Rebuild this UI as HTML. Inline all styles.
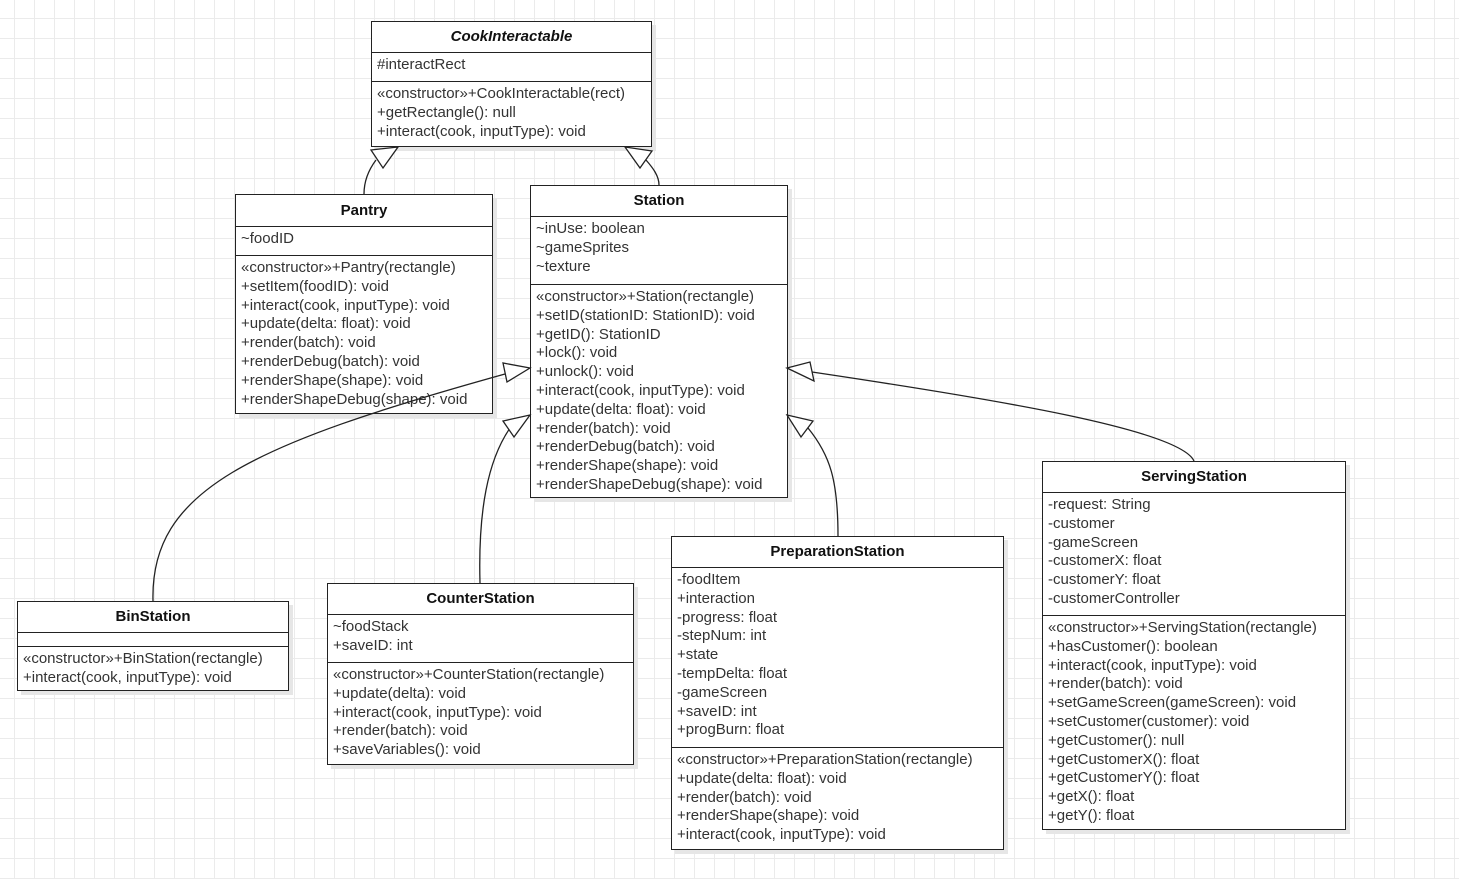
<!DOCTYPE html>
<html><head><meta charset="utf-8"><style>
html,body{margin:0;padding:0;}
body{width:1459px;height:879px;position:relative;overflow:hidden;background-color:#fff;
background-image:linear-gradient(to right,#ebebeb 1px,transparent 1px),linear-gradient(to bottom,#ebebeb 1px,transparent 1px);
background-size:20px 20px;background-position:14px 18px;font-family:"Liberation Sans",sans-serif;}
.box{position:absolute;background:#fff;border:1px solid #222;box-sizing:border-box;box-shadow:4px 4px 0 #e6e6e6;}
.h{font-weight:bold;font-size:15px;text-align:center;color:#111;border-bottom:1px solid #222;box-sizing:border-box;}
.s{font-size:15px;color:#333;line-height:18.8px;padding:3px 0 0 5px;box-sizing:border-box;white-space:nowrap;}
.s+.s{border-top:1px solid #222;}
svg{position:absolute;left:0;top:0;}
</style></head><body>

<div class="box" style="left:371px;top:21px;width:281px;height:126px">
<div class="h" style="height:31px;line-height:30px;font-style:italic">CookInteractable</div>
<div class="s" style="height:28px">#interactRect</div>
<div class="s" style="height:65px">«constructor»+CookInteractable(rect)<br>+getRectangle(): null<br>+interact(cook, inputType): void</div>
</div>

<div class="box" style="left:235px;top:194px;width:258px;height:220px">
<div class="h" style="height:32px;line-height:31px">Pantry</div>
<div class="s" style="height:28px">~foodID</div>
<div class="s" style="height:158px">«constructor»+Pantry(rectangle)<br>+setItem(foodID): void<br>+interact(cook, inputType): void<br>+update(delta: float): void<br>+render(batch): void<br>+renderDebug(batch): void<br>+renderShape(shape): void<br>+renderShapeDebug(shape): void</div>
</div>

<div class="box" style="left:530px;top:185px;width:258px;height:313px">
<div class="h" style="height:31px;line-height:30px">Station</div>
<div class="s" style="height:67px">~inUse: boolean<br>~gameSprites<br>~texture</div>
<div class="s" style="height:213px">«constructor»+Station(rectangle)<br>+setID(stationID: StationID): void<br>+getID(): StationID<br>+lock(): void<br>+unlock(): void<br>+interact(cook, inputType): void<br>+update(delta: float): void<br>+render(batch): void<br>+renderDebug(batch): void<br>+renderShape(shape): void<br>+renderShapeDebug(shape): void</div>
</div>

<div class="box" style="left:17px;top:601px;width:272px;height:90px">
<div class="h" style="height:31px;line-height:30px">BinStation</div>
<div class="s" style="height:13px"></div>
<div class="s" style="height:44px">«constructor»+BinStation(rectangle)<br>+interact(cook, inputType): void</div>
</div>

<div class="box" style="left:327px;top:583px;width:307px;height:182px">
<div class="h" style="height:31px;line-height:30px">CounterStation</div>
<div class="s" style="height:47px">~foodStack<br>+saveID: int</div>
<div class="s" style="height:102px">«constructor»+CounterStation(rectangle)<br>+update(delta): void<br>+interact(cook, inputType): void<br>+render(batch): void<br>+saveVariables(): void</div>
</div>

<div class="box" style="left:671px;top:536px;width:333px;height:314px">
<div class="h" style="height:31px;line-height:30px">PreparationStation</div>
<div class="s" style="height:179px">-foodItem<br>+interaction<br>-progress: float<br>-stepNum: int<br>+state<br>-tempDelta: float<br>-gameScreen<br>+saveID: int<br>+progBurn: float</div>
<div class="s" style="height:102px">«constructor»+PreparationStation(rectangle)<br>+update(delta: float): void<br>+render(batch): void<br>+renderShape(shape): void<br>+interact(cook, inputType): void</div>
</div>

<div class="box" style="left:1042px;top:461px;width:304px;height:369px">
<div class="h" style="height:31px;line-height:30px">ServingStation</div>
<div class="s" style="height:122px">-request: String<br>-customer<br>-gameScreen<br>-customerX: float<br>-customerY: float<br>-customerController</div>
<div class="s" style="height:214px">«constructor»+ServingStation(rectangle)<br>+hasCustomer(): boolean<br>+interact(cook, inputType): void<br>+render(batch): void<br>+setGameScreen(gameScreen): void<br>+setCustomer(customer): void<br>+getCustomer(): null<br>+getCustomerX(): float<br>+getCustomerY(): float<br>+getX(): float<br>+getY(): float</div>
</div>

<svg width="1459" height="879" viewBox="0 0 1459 879">
<g fill="none" stroke="#222" stroke-width="1.3">
<path d="M364,194 C364,180 370,168 376,160"/>
<path d="M659,185 C659,176 653,168 646,160"/>
<path d="M153,601 C150,490 250,445 505,374"/>
<path d="M480,583 C478,510 488,460 510,428"/>
<path d="M838,536 C838,480 830,455 808,428"/>
<path d="M1194,461 C1180,430 1000,400 812,372"/>
</g>
<g fill="#fff" stroke="#222" stroke-width="1.3">
<polygon points="398,147 371,150 383,168"/>
<polygon points="625,147 652,151 640,168"/>
<polygon points="530,368 503,363 507,382"/>
<polygon points="530,415 503,421 514,437"/>
<polygon points="787,415 813,421 801,437"/>
<polygon points="787,368 810,362 814,381"/>
</g>
</svg>
</body></html>
